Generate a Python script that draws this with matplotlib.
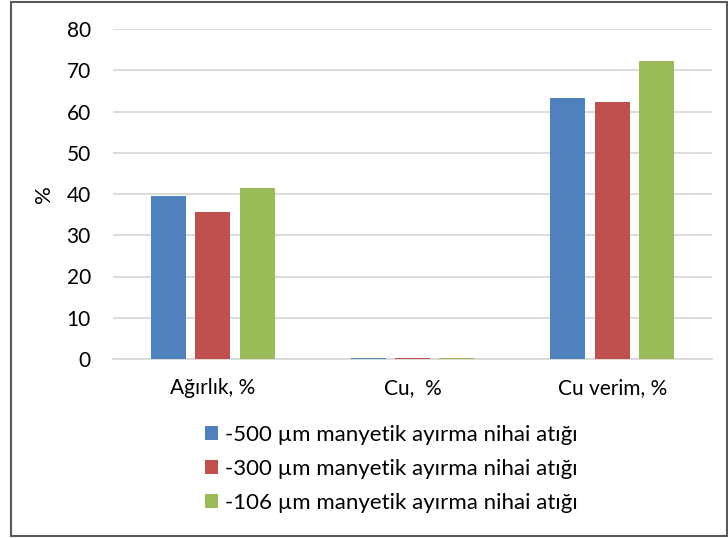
import matplotlib
matplotlib.use("Agg")
import matplotlib.pyplot as plt
from matplotlib.patches import Rectangle, Patch
import numpy as np

categories = ["Ağırlık, %", "Cu,  %", "Cu verim, %"]
series_names = ["-500 µm manyetik ayırma nihai atığı",
                "-300 µm manyetik ayırma nihai atığı",
                "-106 µm manyetik ayırma nihai atığı"]
s500 = [39.4, 0.15, 63.3]
s300 = [35.7, 0.15, 62.4]
s106 = [41.4, 0.15, 72.2]
colors = ["#4F81BD", "#C0504D", "#9BBB59"]
yticks = [0, 10, 20, 30, 40, 50, 60, 70, 80]

plt.rcParams['font.family'] = ['Lato', 'DejaVu Sans']

fig = plt.figure(figsize=(7.28, 5.38), dpi=100)
fig.patch.set_facecolor("white")
ax = fig.add_axes([113/728, 1-359/538, 599/728, 330/538])

x = np.arange(len(categories))
bw = 35/200
step = 44.5/200
for i, (vals, c, n) in enumerate(zip([s500, s300, s106], colors, series_names)):
    ax.bar(x + (i-1)*step, vals, width=bw, color=c, label=n, zorder=3)

ax.set_xlim(-0.5, 2.5)
ax.set_ylim(0, 80)
ax.set_yticks(yticks)
ax.set_yticklabels([str(t) for t in yticks], fontsize=15)
ax.set_xticks(x)
ax.set_xticklabels(categories, fontsize=15)
ax.tick_params(axis='y', length=0, pad=16)
ax.tick_params(axis='x', length=0, pad=14)
ax.yaxis.grid(True, color="#D9D9D9", linewidth=1.3, zorder=0)
ax.set_axisbelow(True)
for s in ["left", "right", "top"]:
    ax.spines[s].set_visible(False)
ax.spines["bottom"].set_color("#D9D9D9")
ax.spines["bottom"].set_linewidth(1.3)
ax.set_ylabel("%", fontsize=16, labelpad=9)

handles = [Patch(facecolor=c) for c in colors]
fig.legend(handles, series_names, loc="upper left",
           bbox_to_anchor=(185/728, 1-405/538), frameon=False,
           fontsize=16, handlelength=0.6, handleheight=0.6,
           handletextpad=0.3, labelspacing=0.62)

fig.patches.append(Rectangle((11/728, 2/538), 1-12/728, 1-4/538,
                             transform=fig.transFigure, fill=False,
                             edgecolor="#595959", linewidth=1.5))

fig.savefig("out.png", dpi=100)
